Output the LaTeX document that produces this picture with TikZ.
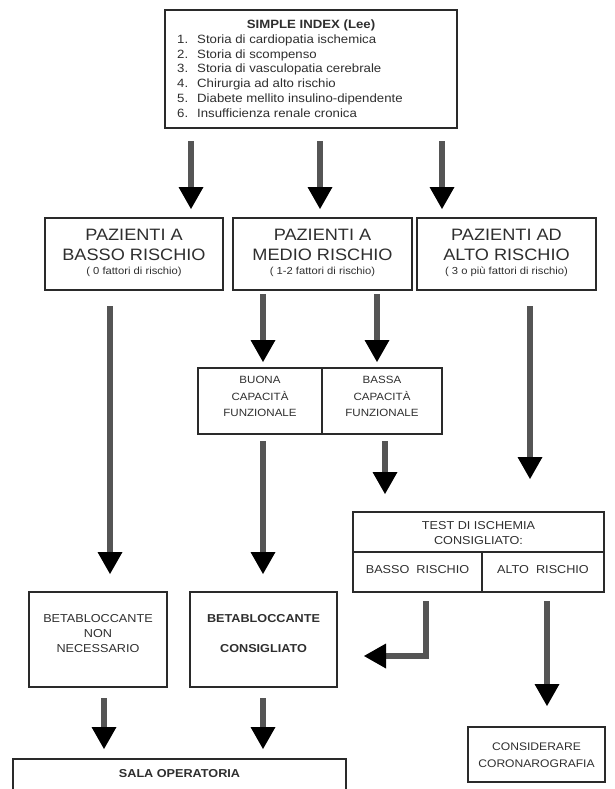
\documentclass[tikz,border=0pt]{standalone}
\usepackage{fontspec}
\setmainfont{Liberation Sans}[FakeStretch=1.1]
\usetikzlibrary{arrows.meta}
\definecolor{ink}{HTML}{2E2E2E}
\definecolor{edgecol}{HTML}{2A2A2A}
\definecolor{shaft}{HTML}{555555}
\begin{document}
\begin{tikzpicture}[x=1pt,y=-1pt,
  box/.style={draw=edgecol,line width=2pt,rectangle,inner sep=0pt},
  txt/.style={text=ink,inner sep=0pt,anchor=base},
  lst/.style={text=ink,inner sep=0pt,anchor=base west,font=\fontsize{12}{14}\selectfont},
  big/.style={font=\fontsize{16.5}{20}\selectfont},
  small/.style={font=\fontsize{10.2}{11}\selectfont},
  mid/.style={font=\fontsize{10.5}{12}\selectfont},
  norm/.style={font=\fontsize{11.5}{14}\selectfont},
  bnorm/.style={font=\fontsize{11.5}{14}\selectfont\bfseries},
  arr/.style={draw=shaft,line width=6.5pt,line join=miter,
    -{Triangle[width=25pt,length=22pt,line width=0pt,color=black]}},
]
\useasboundingbox (0,0) rectangle (614,789);

% ---------- boxes ----------
\node[box,minimum width=292pt,minimum height=118pt] (top) at (311,69) {};
\node[box,minimum width=178pt,minimum height=72pt] (pb) at (134,254) {};
\node[box,minimum width=179pt,minimum height=72pt] (pm) at (322.5,254) {};
\node[box,minimum width=179pt,minimum height=72pt] (pa) at (506.5,254) {};
\node[box,minimum width=124pt,minimum height=66pt] (buona) at (260,401) {};
\node[box,minimum width=120pt,minimum height=66pt] (bassa) at (382,401) {};
\node[box,minimum width=251pt,minimum height=40pt] (test) at (478.5,532) {};
\node[box,minimum width=129pt,minimum height=40pt] (tb) at (417.5,572) {};
\node[box,minimum width=122pt,minimum height=40pt] (ta) at (543,572) {};
\node[box,minimum width=138pt,minimum height=95pt] (bnn) at (98,639.5) {};
\node[box,minimum width=147pt,minimum height=95pt] (bc) at (263.5,639.5) {};
\node[box,minimum width=137pt,minimum height=55pt] (cor) at (536.5,754.5) {};
\node[box,minimum width=333pt,minimum height=60pt] (sala) at (179.5,789) {};

% ---------- texts ----------
\node[txt,font=\fontsize{12}{14}\selectfont\bfseries] (t0) at (311,28.3) {SIMPLE INDEX (Lee)};
\foreach \n/\yy/\s in {1/43.3/Storia di cardiopatia ischemica,
                      2/58.1/Storia di scompenso,
                      3/72.9/Storia di vasculopatia cerebrale,
                      4/87.7/Chirurgia ad alto rischio,
                      5/102.5/Diabete mellito insulino-dipendente,
                      6/117.3/Insufficienza renale cronica}{
  \node[lst] (n\n) at (177,\yy) {\n.};
  \node[lst] (s\n) at (197,\yy) {\s};
}

\node[txt,big] (pb1) at (134,240) {PAZIENTI A};
\node[txt,big] (pb2) at (134,260) {BASSO RISCHIO};
\node[txt,small] (pb3) at (134,274.5) {( 0 fattori di rischio)};
\node[txt,big] (pm1) at (322.5,240) {PAZIENTI A};
\node[txt,big] (pm2) at (322.5,260) {MEDIO RISCHIO};
\node[txt,small] (pm3) at (322.5,274.5) {( 1-2 fattori di rischio)};
\node[txt,big] (pa1) at (506.5,240) {PAZIENTI AD};
\node[txt,big] (pa2) at (506.5,260) {ALTO RISCHIO};
\node[txt,small] (pa3) at (506.5,274.5) {( 3 o più fattori di rischio)};

\node[txt,mid] (bu1) at (260,383.8) {BUONA};
\node[txt,mid] (bu2) at (260,400.8) {CAPACITÀ};
\node[txt,mid] (bu3) at (260,416.8) {FUNZIONALE};
\node[txt,mid] (ba1) at (382,383.8) {BASSA};
\node[txt,mid] (ba2) at (382,400.8) {CAPACITÀ};
\node[txt,mid] (ba3) at (382,416.8) {FUNZIONALE};

\node[txt,norm] (te1) at (478.5,529.1) {TEST DI ISCHEMIA};
\node[txt,norm] (te2) at (478.5,544.1) {CONSIGLIATO:};
\node[txt,norm] (tb1) at (417.5,573.1) {BASSO~~RISCHIO};
\node[txt,norm] (ta1) at (543,573.1) {ALTO~~RISCHIO};

\node[txt,norm] (bn1) at (98,622.1) {BETABLOCCANTE};
\node[txt,norm] (bn2) at (98,637.1) {NON};
\node[txt,norm] (bn3) at (98,652.1) {NECESSARIO};
\node[txt,bnorm] (bc1) at (263.5,622.1) {BETABLOCCANTE};
\node[txt,bnorm] (bc2) at (263.5,652.1) {CONSIGLIATO};

\node[txt,norm,font=\fontsize{11}{13}\selectfont] (co1) at (536.5,750) {CONSIDERARE};
\node[txt,norm,font=\fontsize{11}{13}\selectfont] (co2) at (536.5,767) {CORONAROGRAFIA};
\node[txt,bnorm] (sa1) at (179.5,777.3) {SALA OPERATORIA};

% ---------- arrow columns ----------
\coordinate (xa) at (191,0);
\coordinate (xb) at (320,0);
\coordinate (xc) at (442,0);
\coordinate (xd) at (110,0);
\coordinate (xe) at (263,0);
\coordinate (xf) at (377,0);
\coordinate (xg) at (530,0);
\coordinate (xh) at (385,0);
\coordinate (xi) at (426,0);
\coordinate (xj) at (547,0);
\coordinate (xk) at (104,0);
\coordinate (bend) at (426,656);

% ---------- arrows ----------
\draw[arr,shorten <=12pt,shorten >=8pt] (top.south -| xa) -- (pb.north -| xa);
\draw[arr,shorten <=12pt,shorten >=8pt] (top.south -| xb) -- (pm.north -| xb);
\draw[arr,shorten <=12pt,shorten >=8pt] (top.south -| xc) -- (pa.north -| xc);

\draw[arr,shorten <=15pt,shorten >=17pt] (pb.south -| xd) -- (bnn.north -| xd);
\draw[arr,shorten <=3pt,shorten >=5pt] (pm.south -| xe) -- (buona.north -| xe);
\draw[arr,shorten <=3pt,shorten >=5pt] (pm.south -| xf) -- (bassa.north -| xf);
\draw[arr,shorten <=15pt,shorten >=32pt] (pa.south -| xg) -- (test.north -| xg);

\draw[arr,shorten <=6pt,shorten >=17pt] (buona.south -| xe) -- (bc.north -| xe);
\draw[arr,shorten <=6pt,shorten >=17pt] (bassa.south -| xh) -- (test.north -| xh);

\draw[arr,shorten <=8pt,shorten >=26pt] (tb.south -| xi) -- (bend) -- (bc.east |- bend);
\draw[arr,shorten <=8pt,shorten >=20pt] (ta.south -| xj) -- (cor.north -| xj);

\draw[arr,shorten <=10pt,shorten >=9pt] (bnn.south -| xk) -- (sala.north -| xk);
\draw[arr,shorten <=10pt,shorten >=9pt] (bc.south -| xe) -- (sala.north -| xe);
\end{tikzpicture}
\end{document}
